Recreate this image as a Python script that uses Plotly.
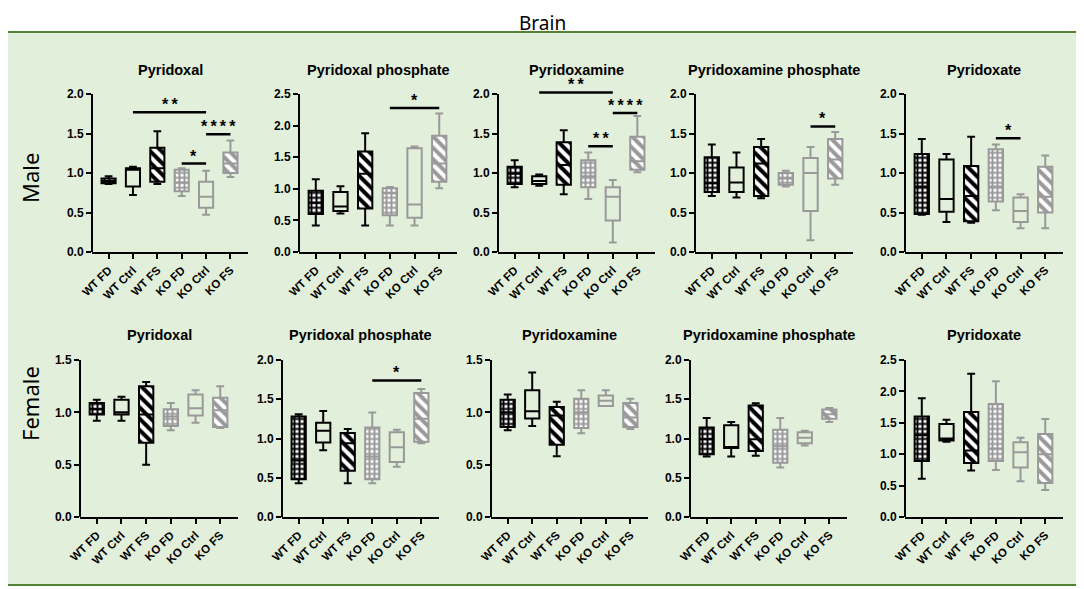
import plotly.graph_objects as go

W, H = 1084, 589
PAGE_OFFSET = 8         # the page body margin shifts the figure by this much

GROUPS = ['WT FD', 'WT Ctrl', 'WT FS', 'KO FD', 'KO Ctrl', 'KO FS']
COMPOUNDS = ['Pyridoxal', 'Pyridoxal phosphate', 'Pyridoxamine',
             'Pyridoxamine phosphate', 'Pyridoxate']
Y_TOP_MALE = [2.0, 2.5, 2.0, 2.0, 2.0]
Y_TOP_FEMALE = [1.5, 2.0, 1.5, 2.0, 2.5]

# (min, q1, median, q3, max) for each group
male_pl = [(0.86, 0.87, 0.90, 0.93, 0.96), (0.72, 0.83, 1.04, 1.06, 1.08),
           (0.86, 0.89, 1.06, 1.32, 1.53), (0.71, 0.77, 0.88, 1.04, 1.06),
           (0.47, 0.56, 0.70, 0.89, 1.03), (0.95, 1.00, 1.12, 1.26, 1.41)]
male_plp = [(0.42, 0.60, 0.78, 0.97, 1.15), (0.61, 0.65, 0.72, 0.95, 1.04),
            (0.42, 0.69, 1.24, 1.59, 1.88), (0.42, 0.58, 0.93, 1.01, 1.03),
            (0.42, 0.54, 0.75, 1.64, 1.67), (1.01, 1.11, 1.40, 1.84, 2.19)]
male_pm = [(0.82, 0.86, 0.99, 1.08, 1.16), (0.84, 0.86, 0.90, 0.96, 0.98),
           (0.73, 0.85, 1.10, 1.39, 1.54), (0.67, 0.82, 0.96, 1.16, 1.26),
           (0.12, 0.40, 0.70, 0.82, 0.91), (1.01, 1.04, 1.15, 1.46, 1.72)]
male_pmp = [(0.71, 0.76, 0.87, 1.20, 1.36), (0.69, 0.76, 0.88, 1.07, 1.26),
            (0.68, 0.71, 1.12, 1.33, 1.43), (0.83, 0.85, 0.93, 1.00, 1.03),
            (0.15, 0.52, 1.00, 1.19, 1.33), (0.85, 0.93, 1.17, 1.43, 1.52)]
male_pa = [(0.47, 0.48, 0.83, 1.24, 1.43), (0.38, 0.51, 0.67, 1.17, 1.24),
           (0.37, 0.39, 0.71, 1.09, 1.46), (0.53, 0.64, 0.83, 1.30, 1.36),
           (0.30, 0.38, 0.52, 0.69, 0.73), (0.30, 0.50, 0.70, 1.08, 1.22)]

female_pl = [(0.92, 0.98, 1.03, 1.09, 1.12), (0.92, 0.98, 1.00, 1.12, 1.15),
             (0.50, 0.71, 0.98, 1.25, 1.29), (0.83, 0.87, 0.96, 1.03, 1.09),
             (0.90, 0.97, 1.04, 1.17, 1.21), (0.85, 0.86, 1.02, 1.14, 1.25)]
female_plp = [(0.43, 0.48, 0.72, 1.28, 1.31), (0.85, 0.95, 1.10, 1.20, 1.35),
              (0.43, 0.59, 0.94, 1.07, 1.12), (0.43, 0.48, 0.77, 1.14, 1.33),
              (0.64, 0.70, 0.89, 1.08, 1.11), (0.94, 0.96, 1.25, 1.58, 1.63)]
female_pm = [(0.83, 0.86, 1.00, 1.12, 1.17), (0.87, 0.94, 1.01, 1.21, 1.38),
             (0.58, 0.69, 0.97, 1.05, 1.10), (0.80, 0.85, 1.00, 1.13, 1.21),
             (1.06, 1.06, 1.11, 1.16, 1.21), (0.84, 0.86, 0.95, 1.09, 1.13)]
female_pmp = [(0.77, 0.80, 0.99, 1.14, 1.26), (0.77, 0.88, 0.89, 1.17, 1.21),
              (0.78, 0.84, 0.99, 1.42, 1.45), (0.63, 0.69, 0.90, 1.11, 1.26),
              (0.91, 0.94, 1.01, 1.08, 1.10), (1.21, 1.25, 1.31, 1.37, 1.39)]
female_pa = [(0.61, 0.89, 1.30, 1.60, 1.89), (1.20, 1.22, 1.25, 1.48, 1.55),
             (0.74, 0.86, 1.06, 1.67, 2.28), (0.75, 0.89, 1.09, 1.80, 2.16),
             (0.57, 0.79, 1.03, 1.19, 1.26), (0.43, 0.54, 1.00, 1.32, 1.56)]

# significance bars: (from group, to group, height, stars)
male_pl_sig = [('WT Ctrl', 'KO Ctrl', 1.77, '**'), ('KO FD', 'KO Ctrl', 1.12, '*'),
               ('KO Ctrl', 'KO FS', 1.49, '****')]
male_plp_sig = [('KO FD', 'KO FS', 2.28, '*')]
male_pm_sig = [('WT Ctrl', 'KO Ctrl', 2.02, '**'), ('KO Ctrl', 'KO FS', 1.76, '****'),
               ('KO FD', 'KO Ctrl', 1.34, '**')]
male_pmp_sig = [('KO Ctrl', 'KO FS', 1.59, '*')]
male_pa_sig = [('KO FD', 'KO Ctrl', 1.44, '*')]
female_plp_sig = [('KO FD', 'KO FS', 1.74, '*')]

male_data = [male_pl, male_plp, male_pm, male_pmp, male_pa]
male_sigs = [male_pl_sig, male_plp_sig, male_pm_sig, male_pmp_sig, male_pa_sig]
female_data = [female_pl, female_plp, female_pm, female_pmp, female_pa]
female_sigs = [[], female_plp_sig, [], [], []]

# pixel layout of each panel: y axis x-position, axis end
MALE_X = [(92, 248), (299, 457), (498, 655), (695, 853), (905, 1063)]
FEMALE_X = [(80, 238), (282, 439), (491, 648), (690, 847), (905, 1063)]
MALE_Y = (252, 94)      # pixel of 0 and of top tick
FEMALE_Y = (517, 360)
EXTRA = 1.15            # head room above the top tick for significance bars

BLACK = '#000000'
GRAY = '#999999'
BOX_W = 0.58
FONT = 'Liberation Sans, Arial'
XTICK_FONT = dict(family=FONT, size=11.5, color='black', weight='bold')
YTICK_FONT = dict(family=FONT, size=12, color='black', weight='bold')


def px(x):
    return (x - PAGE_OFFSET) / W


def py(y):
    return 1 - (y - PAGE_OFFSET) / H


fig = go.Figure()
shapes = []
annotations = []
layout_axes = {}

panels = []
for i in range(5):
    panels.append((COMPOUNDS[i], male_data[i], male_sigs[i], Y_TOP_MALE[i], MALE_X[i], MALE_Y, 70))
for i in range(5):
    panels.append((COMPOUNDS[i], female_data[i], female_sigs[i], Y_TOP_FEMALE[i], FEMALE_X[i], FEMALE_Y, 335))

for n, (title, data, sigs, top, (x0, x1), (yb, yt), title_y) in enumerate(panels, start=1):
    xa = 'x' if n == 1 else f'x{n}'
    ya = 'y' if n == 1 else f'y{n}'

    for g, (lo, q1, med, q3, hi) in zip(GROUPS, data):
        color = GRAY if g.startswith('KO') else BLACK
        kind = g.split()[1]
        if kind != 'Ctrl':
            if kind == 'FD':
                pattern = dict(shape='+', fgcolor=color, bgcolor='white', size=5, solidity=0.62)
            else:
                pattern = dict(shape='\\', fgcolor=color, bgcolor='white', size=8, solidity=0.5)
            fig.add_trace(go.Bar(
                x=[g], y=[q3 - q1], base=[q1], width=BOX_W,
                marker=dict(color='white', line_width=0, pattern=pattern),
                xaxis=xa, yaxis=ya, showlegend=False, hoverinfo='skip'))
        fig.add_trace(go.Box(
            x=[g], q1=[q1], median=[med], q3=[q3], lowerfence=[lo], upperfence=[hi],
            width=BOX_W, whiskerwidth=0.55, fillcolor='rgba(0,0,0,0)',
            line=dict(color=color, width=2), boxpoints=False,
            xaxis=xa, yaxis=ya, showlegend=False))

    dom_top = yb - (yb - yt) * EXTRA
    layout_axes['xaxis' if n == 1 else f'xaxis{n}'] = dict(
        domain=[px(x0), px(x1)], anchor=ya, type='category',
        categoryorder='array', categoryarray=GROUPS, range=[-0.68, 5.72],
        showline=True, linecolor='black', linewidth=2, automargin=False,
        ticks='outside', ticklen=5, tickwidth=2, tickcolor='black',
        tickangle=-45, tickfont=XTICK_FONT, showgrid=False, zeroline=False)
    ticks = [k * 0.5 for k in range(int(round(top / 0.5)) + 1)]
    layout_axes['yaxis' if n == 1 else f'yaxis{n}'] = dict(
        domain=[py(yb), py(dom_top)], anchor=xa, range=[0, top * EXTRA],
        tickvals=ticks, ticktext=[f'{t:.1f}' for t in ticks], automargin=False,
        showline=False, ticks='outside', ticklen=5, tickwidth=2, tickcolor='black',
        tickfont=YTICK_FONT, showgrid=False, zeroline=False)

    # y axis line stops at the top tick
    shapes.append(dict(type='line', xref=f'{xa} domain', yref=ya, x0=0, x1=0,
                       y0=0, y1=top, line=dict(color='black', width=2)))

    for a, b, h, stars in sigs:
        ia, ib = GROUPS.index(a), GROUPS.index(b)
        shapes.append(dict(type='line', xref=xa, yref=ya, x0=ia, x1=ib, y0=h, y1=h,
                           line=dict(color='black', width=2.5)))
        annotations.append(dict(xref=xa, yref=ya, x=(ia + ib) / 2, y=h,
                                text='\u2009'.join(stars), showarrow=False,
                                xanchor='center', yanchor='bottom', yshift=-3,
                                font=dict(family=FONT, size=16, color='black',
                                          weight='bold')))

    annotations.append(dict(xref='paper', yref='paper', x=px((x0 + x1) / 2), y=py(title_y),
                            text=title, showarrow=False, xanchor='center', yanchor='middle',
                            font=dict(family=FONT, size=14.5, color='black', weight='bold')))

# green frame
shapes.insert(0, dict(type='rect', xref='paper', yref='paper', layer='below',
                      x0=px(6), x1=px(1078), y0=py(585), y1=py(32),
                      fillcolor='#E2EFDA', line=dict(color='#548235', width=2)))

annotations.append(dict(xref='paper', yref='paper', x=px(542), y=1, text='Brain',
                        showarrow=False, xanchor='center', yanchor='top',
                        font=dict(family='Noto Sans', size=19, color='black')))
annotations.append(dict(xref='paper', yref='paper', x=px(30), y=py(178), text='Male',
                        showarrow=False, textangle=-90, xanchor='center', yanchor='middle',
                        font=dict(family='Noto Sans', size=22, color='black')))
annotations.append(dict(xref='paper', yref='paper', x=px(30), y=py(404), text='Female',
                        showarrow=False, textangle=-90, xanchor='center', yanchor='middle',
                        font=dict(family='Noto Sans', size=22, color='black')))

fig.update_layout(
    template='none',
    width=W, height=H, autosize=False,
    margin=dict(l=0, r=0, t=0, b=0, pad=0),
    paper_bgcolor='white', plot_bgcolor='rgba(0,0,0,0)',
    barmode='overlay', boxmode='overlay', hovermode=False,
    shapes=shapes, annotations=annotations,
    **layout_axes)

fig.write_html("out.html")
